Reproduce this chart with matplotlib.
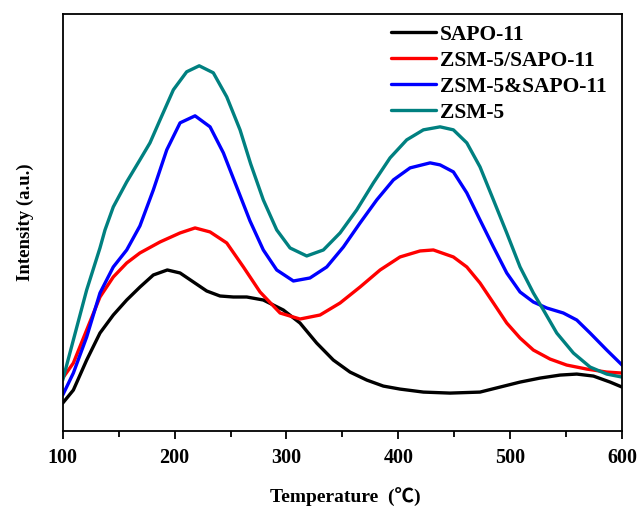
import matplotlib
matplotlib.use("Agg")
import matplotlib.pyplot as plt

# Temperature points (°C) and intensities (a.u.)
t_sapo = [100, 109.5, 121.4, 133.3, 145.2, 157.2, 169.1, 181, 193.5, 204.9, 216.8,
          228.7, 240.6, 252.5, 264.5, 279.3, 297.2, 312.1, 327, 341.9, 356.8, 371.8,
          386.6, 401.5, 422.4, 446.2, 473, 490.9, 508.8, 526.7, 544.6, 559.5, 574.4,
          589.3, 600]
y_sapo = [28, 41, 71, 98, 116, 131, 144, 156, 161, 158, 149,
          140, 135, 134, 134, 131, 121, 108, 88, 71, 59, 51,
          45, 42, 39, 38, 39, 44, 49, 53, 56, 57, 55,
          49, 44]

t_zs = [100, 109.5, 121.4, 133.3, 145.2, 157.2, 169, 187, 204.9, 218.3, 231.7,
        246.6, 261.5, 276.4, 294.3, 312.1, 330, 347.9, 365.8, 383.7, 401.5, 419.4,
        431.3, 449.2, 461.2, 473, 485, 496.9, 508.8, 520.7, 535.6, 550.5, 568.4,
        586.3, 600]
y_zs = [53, 68, 101, 134, 154, 168, 178, 189, 198, 203, 199,
        188, 164, 139, 118, 112, 116, 128, 144, 161, 174, 180,
        181, 174, 164, 148, 128, 108, 93, 81, 72, 66, 62,
        59, 58]

t_zas = [100, 109.5, 121.4, 133.3, 145.2, 157.2, 169, 181, 193, 204.9, 218.3,
         231.7, 243.6, 255.5, 267.4, 279.3, 291.3, 306.2, 321, 336, 350.9, 365.8,
         380.7, 395.6, 410.5, 428.4, 437.3, 449.2, 461.2, 473, 485, 496.9, 508.8,
         520.7, 532.7, 547.5, 559.5, 571.4, 586.3, 600]
y_zas = [36, 58, 94, 138, 164, 181, 205, 241, 281, 308, 315,
         304, 278, 244, 210, 181, 161, 150, 153, 164, 184, 208,
         231, 251, 263, 268, 266, 259, 238, 211, 184, 158, 139,
         129, 123, 118, 111, 98, 81, 66]

t_z = [100, 109.5, 121.4, 133.3, 137.8, 145.2, 157.2, 169, 178, 187, 198.9,
       210.8, 222, 234.6, 246.6, 258.5, 268, 279.3, 291.3, 303.2, 318.1, 333,
       347.9, 362.8, 377.7, 392.6, 407.5, 422.4, 437.3, 449.2, 461.2, 473, 485,
       496.9, 508.8, 520.7, 529.7, 541.6, 556.5, 571.4, 586.3, 600]
y_z = [51, 91, 141, 183, 201, 224, 249, 271, 288, 311, 341,
       359, 365, 358, 334, 301, 267, 231, 201, 183, 175, 181,
       198, 221, 248, 273, 291, 301, 304, 301, 288, 264, 231,
       198, 164, 138, 121, 98, 78, 64, 57, 54]

labels = ["SAPO-11", "ZSM-5/SAPO-11", "ZSM-5&SAPO-11", "ZSM-5"]
colors = ["black", "#ff0000", "#0000ff", "#008080"]

serif = ["Liberation Serif", "Noto Sans CJK SC", "DejaVu Sans"]
plt.rcParams["font.family"] = serif
plt.rcParams["font.weight"] = "bold"

fig = plt.figure(figsize=(6.4, 5.09), dpi=100)
ax = fig.add_axes([0.098, 0.153, 0.874, 0.82])

series = [(t_sapo, y_sapo), (t_zs, y_zs), (t_zas, y_zas), (t_z, y_z)]
for (t, y), lab, c in zip(series, labels, colors):
    ax.plot(t, y, color=c, lw=2.4, label=lab, solid_capstyle="round",
            solid_joinstyle="round")

ax.set_xlim(100, 600)
ax.set_ylim(0, 417)
ax.set_xticks([100, 200, 300, 400, 500, 600])
ax.set_xticks([150, 250, 350, 450, 550], minor=True)
ax.set_yticks([])
ax.tick_params(axis="x", which="major", direction="out", length=6, width=1.3,
               labelsize=14.5, pad=6)
ax.tick_params(axis="x", which="minor", direction="out", length=4, width=1.3)
for lbl in ax.get_xticklabels():
    lbl.set_fontweight("bold")
for s in ax.spines.values():
    s.set_linewidth(1.3)

ax.set_xlabel("Temperature  (℃)", fontsize=14, fontweight="bold")
ax.xaxis.set_label_coords(0.505, -0.136)
ax.set_ylabel("Intensity (a.u.)", fontsize=13.5, fontweight="bold", labelpad=21)

leg = ax.legend(loc="upper right", bbox_to_anchor=(0.991, 1.0), frameon=False,
                handlelength=2.1, handletextpad=0.15, labelspacing=0.28,
                borderaxespad=0.1,
                prop={"weight": "bold", "size": 15.5, "family": serif})

fig.savefig("out.png", dpi=100)
